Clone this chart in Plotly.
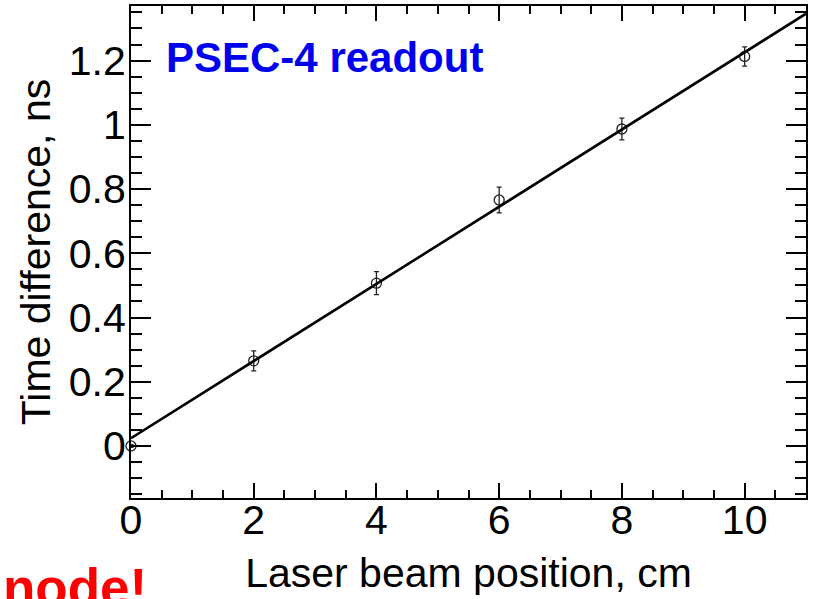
import plotly.graph_objects as go

# Data
positions_cm = [0, 2, 4, 6, 8, 10]
time_diff_ns = [0.0, 0.265, 0.507, 0.766, 0.987, 1.213]
time_err_ns = [0.004, 0.031, 0.036, 0.040, 0.034, 0.030]

fit_x = [0, 11]
fit_y = [0.024, 1.346]

x_tickvals = [0, 2, 4, 6, 8, 10]
x_ticktext = ["0", "2", "4", "6", "8", "10"]
y_tickvals = [0, 0.2, 0.4, 0.6, 0.8, 1.0, 1.2]
y_ticktext = ["0", "0.2", "0.4", "0.6", "0.8", "1", "1.2"]

FONT = "Arial, 'Liberation Sans', Helvetica, sans-serif"

fig = go.Figure()

fig.add_trace(go.Scatter(
    x=positions_cm, y=time_diff_ns,
    mode="markers",
    marker=dict(symbol="circle-open", size=10, color="#222222", line=dict(width=1.3)),
    error_y=dict(type="data", array=time_err_ns, visible=True, color="#222222",
                 thickness=1.3, width=2.5),
    cliponaxis=False,
    showlegend=False,
))

fig.add_trace(go.Scatter(
    x=fit_x, y=fit_y,
    mode="lines",
    line=dict(color="black", width=2.6),
    showlegend=False,
))

axis_common = dict(
    showline=True, linecolor="black", linewidth=2,
    mirror="ticks", ticks="inside", tickcolor="black", tickwidth=1.6,
    showgrid=False, zeroline=False, automargin=False,
    tickfont=dict(family=FONT, size=41, color="black"),
    title_font=dict(family=FONT, size=41, color="black"),
)

fig.update_xaxes(
    range=[0, 11],
    tickvals=x_tickvals, ticktext=x_ticktext,
    ticklen=15,
    minor=dict(dtick=0.5, ticklen=8, ticks="inside", tickcolor="black", tickwidth=1.6),
    title_text="Laser beam position, cm",
    title_standoff=16,
    ticklabelstandoff=-15,
    **axis_common,
)
fig.update_yaxes(
    range=[-0.162, 1.37],
    tickvals=y_tickvals, ticktext=y_ticktext,
    ticklen=20,
    minor=dict(dtick=0.05, ticklen=11, ticks="inside", tickcolor="black", tickwidth=1.6),
    title_text="Time difference, ns",
    title_standoff=5,
    ticklabelstandoff=-5,
    **axis_common,
)

fig.add_annotation(
    text="<b>PSEC-4 readout</b>",
    xref="paper", yref="paper", x=0.0504, y=0.8945,
    xanchor="left", yanchor="middle", showarrow=False, borderpad=0,
    font=dict(family=FONT, size=42, color="#0000F0"),
)
fig.add_annotation(
    text="<b>node!</b>",
    xref="paper", yref="paper", x=-0.191, y=-0.12,
    xanchor="left", yanchor="top", showarrow=False, borderpad=0,
    font=dict(family=FONT, size=53, color="#FF0000"),
)

fig.update_layout(
    width=814, height=599,
    margin=dict(l=131, r=8, t=6, b=101, autoexpand=False),
    paper_bgcolor="white", plot_bgcolor="white",
)

fig.write_html("out.html")
